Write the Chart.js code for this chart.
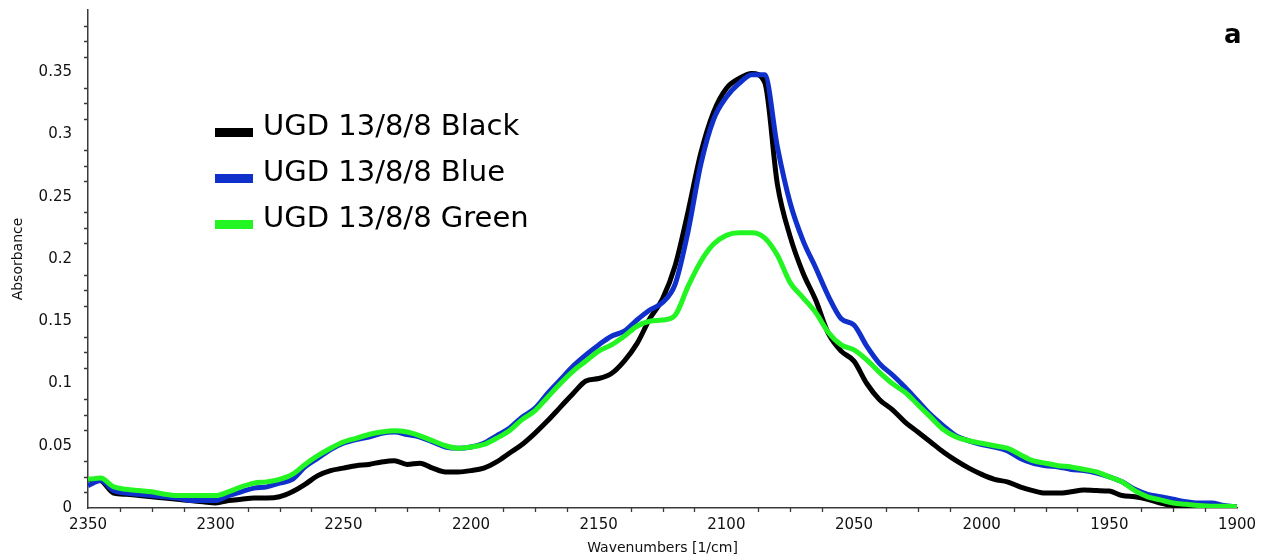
<!DOCTYPE html>
<html>
<head>
<meta charset="utf-8">
<script src="https://cdn.jsdelivr.net/npm/chart.js@4/dist/chart.umd.min.js"></script>
<style>
  html, body { margin: 0; padding: 0; background: #fff; }
  #wrap { width: 1271px; height: 559px; }
</style>
</head>
<body>
<div id="wrap"><canvas id="spectrum"></canvas></div>
<script>
// wavenumbers, 2350 -> 1900 in steps of 5
const wavenumbers = [];
for (let w = 2350; w >= 1900; w -= 5) wavenumbers.push(w);

const black = [
  0.023, 0.022, 0.012, 0.011, 0.010, 0.009, 0.008, 0.007, 0.006, 0.005,
  0.004, 0.006, 0.007, 0.008, 0.008, 0.009, 0.013, 0.019, 0.026, 0.030,
  0.032, 0.034, 0.035, 0.037, 0.038, 0.035, 0.036, 0.032, 0.029, 0.029,
  0.030, 0.032, 0.037, 0.044, 0.051, 0.060, 0.070, 0.081, 0.092, 0.102,
  0.104, 0.108, 0.118, 0.132, 0.152, 0.168, 0.195, 0.238, 0.285, 0.318,
  0.337, 0.345, 0.349, 0.342, 0.260, 0.218, 0.189, 0.167, 0.140, 0.126,
  0.118, 0.100, 0.087, 0.079, 0.069, 0.061, 0.053, 0.045, 0.038, 0.032,
  0.027, 0.023, 0.021, 0.017, 0.014, 0.012, 0.012, 0.013, 0.0145, 0.014,
  0.0136, 0.010, 0.009, 0.007, 0.004, 0.002, 0.001, 0.001, 0.001, 0.001,
  0.001
];

const blue = [
  0.018, 0.022, 0.014, 0.012, 0.011, 0.010, 0.009, 0.008, 0.006, 0.006,
  0.006, 0.010, 0.013, 0.016, 0.017, 0.020, 0.023, 0.033, 0.040, 0.047,
  0.052, 0.055, 0.057, 0.060, 0.061, 0.059, 0.057, 0.053, 0.049, 0.048,
  0.049, 0.052, 0.058, 0.064, 0.073, 0.080, 0.092, 0.103, 0.114, 0.123,
  0.131, 0.138, 0.142, 0.151, 0.159, 0.165, 0.180, 0.222, 0.276, 0.312,
  0.330, 0.341, 0.348, 0.348, 0.290, 0.245, 0.215, 0.193, 0.170, 0.152,
  0.147, 0.130, 0.116, 0.107, 0.097, 0.086, 0.075, 0.066, 0.058, 0.054,
  0.051, 0.049, 0.046, 0.040, 0.036, 0.034, 0.033, 0.031, 0.030, 0.028,
  0.025, 0.021, 0.015, 0.011, 0.009, 0.007, 0.005, 0.004, 0.004, 0.002,
  0.001
];

const green = [
  0.023, 0.024, 0.017, 0.015, 0.014, 0.013, 0.011, 0.010, 0.010, 0.010,
  0.010, 0.013, 0.017, 0.020, 0.021, 0.023, 0.027, 0.035, 0.042, 0.048,
  0.053, 0.056, 0.059, 0.061, 0.062, 0.061, 0.058, 0.054, 0.050, 0.048,
  0.049, 0.051, 0.056, 0.062, 0.071, 0.078, 0.089, 0.100, 0.110, 0.118,
  0.126, 0.131, 0.138, 0.146, 0.150, 0.151, 0.155, 0.178, 0.198, 0.212,
  0.219, 0.221, 0.221, 0.217, 0.203, 0.181, 0.169, 0.157, 0.141, 0.131,
  0.127, 0.119, 0.109, 0.100, 0.093, 0.083, 0.073, 0.063, 0.057, 0.054,
  0.052, 0.050, 0.048, 0.043, 0.038, 0.036, 0.034, 0.033, 0.031, 0.029,
  0.025, 0.021, 0.014, 0.009, 0.0065, 0.004, 0.003, 0.002, 0.0015, 0.0015,
  0.001
];

const seriesLabels = ['UGD 13/8/8 Black', 'UGD 13/8/8 Blue', 'UGD 13/8/8 Green'];
const seriesColors = ['#000000', '#1030cc', '#22f522'];
const yTicks = [0, 0.05, 0.1, 0.15, 0.2, 0.25, 0.3, 0.35];
const xTicks = [2350, 2300, 2250, 2200, 2150, 2100, 2050, 2000, 1950, 1900];

const axisColor = '#3a3a3a';
const FONT = 'DejaVu Sans, Verdana, sans-serif';

const toPoints = vals => vals.map((v, i) => ({ x: wavenumbers[i], y: v }));

// short minor ticks, legend block and the panel letter
const extras = {
  id: 'extras',
  afterDraw(chart) {
    const ctx = chart.ctx;
    const area = chart.chartArea;
    const xs = chart.scales.x, ys = chart.scales.y;
    ctx.save();
    ctx.strokeStyle = axisColor;
    ctx.lineWidth = 1.3;
    ctx.beginPath();
    for (let v = 0.0125; v < 0.4; v += 0.0125) {
      if (Math.abs(v / 0.05 - Math.round(v / 0.05)) < 1e-6) continue;
      const py = Math.round(ys.getPixelForValue(v)) + 0.5;
      ctx.moveTo(area.left - 4, py);
      ctx.lineTo(area.left, py);
    }
    for (let w = 2350 - 12.5; w > 1900; w -= 12.5) {
      if (w % 50 === 0) continue;
      const px = Math.round(xs.getPixelForValue(w)) + 0.5;
      ctx.moveTo(px, area.bottom);
      ctx.lineTo(px, area.bottom + 4);
    }
    ctx.stroke();

    // legend
    ctx.font = '29px ' + FONT;
    ctx.textBaseline = 'alphabetic';
    ctx.textAlign = 'left';
    chart.data.datasets.forEach((ds, i) => {
      const base = 135 + i * 46;
      ctx.fillStyle = ds.borderColor;
      ctx.fillRect(215, base - 7, 38, 9);
      ctx.fillStyle = '#000';
      ctx.fillText(ds.label, 263, base);
    });

    ctx.font = 'bold 26px ' + FONT;
    ctx.fillText('a', 1224, 43);
    ctx.restore();
  }
};

new Chart(document.getElementById('spectrum'), {
  type: 'line',
  data: {
    datasets: [black, blue, green].map((vals, i) => ({
      label: seriesLabels[i],
      data: toPoints(vals),
      borderColor: seriesColors[i],
      backgroundColor: seriesColors[i],
      borderWidth: 5,
      pointRadius: 0,
      cubicInterpolationMode: 'monotone',
      order: 3 - i
    }))
  },
  options: {
    responsive: true,
    maintainAspectRatio: false,
    animation: false,
    layout: { padding: { top: 10, right: 34, left: 0, bottom: 0 } },
    plugins: {
      legend: { display: false },
      tooltip: { enabled: false }
    },
    scales: {
      x: {
        type: 'linear',
        reverse: true,
        min: 1900,
        max: 2350,
        afterBuildTicks: scale => { scale.ticks = xTicks.map(v => ({ value: v })); },
        afterFit: scale => { scale.height = 51; scale.paddingLeft = 0; scale.paddingRight = 0; },
        grid: { display: false, drawTicks: true, tickLength: 7, tickColor: axisColor, tickWidth: 1.3 },
        border: { display: true, color: axisColor, width: 1.5 },
        ticks: {
          color: '#111',
          font: { family: FONT, size: 15 },
          padding: 1,
          maxRotation: 0,
          autoSkip: false,
          callback: v => String(v)
        },
        title: {
          display: true,
          text: 'Wavenumbers [1/cm]',
          color: '#111',
          font: { family: FONT, size: 14 },
          padding: { top: 0, bottom: 2 }
        }
      },
      y: {
        min: 0,
        max: 0.4,
        afterBuildTicks: scale => { scale.ticks = yTicks.concat([0.4]).map(v => ({ value: v })); },
        afterFit: scale => { scale.width = 88; scale.paddingTop = 0; scale.paddingBottom = 0; },
        grid: { display: false, drawTicks: true, tickLength: 7, tickColor: axisColor, tickWidth: 1.3 },
        border: { display: true, color: axisColor, width: 1.5 },
        ticks: {
          color: '#111',
          font: { family: FONT, size: 15 },
          padding: 9,
          autoSkip: false,
          callback: v => (v >= 0.399 ? '' : String(Math.round(v * 100) / 100))
        },
        title: {
          display: true,
          text: 'Absorbance',
          color: '#111',
          font: { family: FONT, size: 14 },
          padding: { top: 10, bottom: 4 }
        }
      }
    }
  },
  plugins: [extras]
});
</script>
</body>
</html>
